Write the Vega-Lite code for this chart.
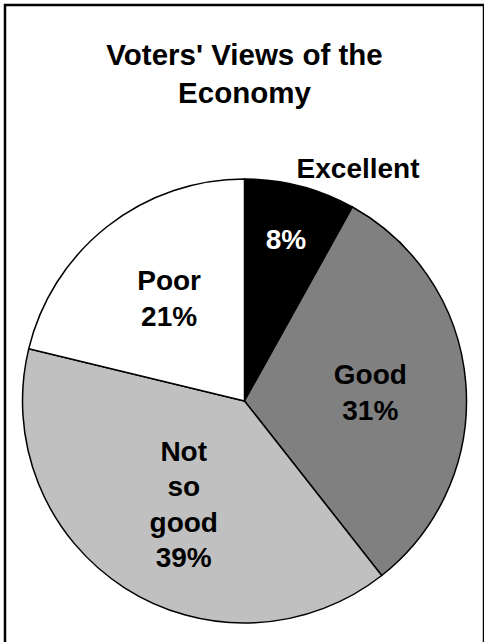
{
  "$schema": "https://vega.github.io/schema/vega-lite/v6.json",
  "width": 479,
  "height": 792,
  "autosize": "none",
  "padding": {"left": 5, "top": 5, "right": 0, "bottom": 0},
  "background": "white",
  "config": {
    "view": {"stroke": null},
    "text": {"font": "Liberation Sans"}
  },
  "title": {
    "text": ["Voters' Views of the", "Economy"],
    "font": "Liberation Sans",
    "fontSize": 29.5,
    "fontWeight": "bold",
    "color": "black",
    "lineHeight": 38,
    "anchor": "middle",
    "frame": "group",
    "baseline": "bottom",
    "offset": 0,
    "dy": 135
  },
  "data": {
    "values": [
      {"category": "Excellent", "value": 8, "label": "8%"},
      {"category": "Good", "value": 31, "label": "Good\n31%"},
      {"category": "Not so good", "value": 39, "label": "Not\nso\ngood\n39%"},
      {"category": "Poor", "value": 21, "label": "Poor\n21%"}
    ]
  },
  "layer": [
    {
      "data": {"values": [{"frame": "border"}]},
      "mark": {"type": "rect", "fill": "white", "fillOpacity": 0, "stroke": "black", "strokeWidth": 2.5, "x2Offset": 8},
      "encoding": {}
    },
    {
      "mark": {"type": "arc", "radius": 222, "stroke": "black", "strokeWidth": 1.5},
      "encoding": {
        "theta": {"field": "value", "type": "quantitative", "stack": true},
        "order": {"field": "category", "type": "ordinal", "sort": "ascending"},
        "color": {
          "field": "category",
          "type": "nominal",
          "scale": {"domain": ["Excellent", "Good", "Not so good", "Poor"], "range": ["#000000", "#808080", "#c0c0c0", "#ffffff"]},
          "legend": null
        }
      }
    },
    {
      "mark": {"type": "text", "radius": 126, "thetaOffset": 0.025, "dy": -18, "fontSize": 28, "fontWeight": "bold", "color": "black", "lineBreak": "\n", "lineHeight": 35.5, "align": "center", "baseline": "middle"},
      "encoding": {
        "theta": {"field": "value", "type": "quantitative", "stack": true},
        "order": {"field": "category", "type": "ordinal", "sort": "ascending"},
        "text": {"condition": {"test": "datum.category !== 'Good' && datum.category !== 'Poor'", "value": ""}, "field": "label", "type": "nominal"}
      }
    },
    {
      "mark": {"type": "text", "radius": 121, "thetaOffset": -0.045, "dy": -53, "fontSize": 28, "fontWeight": "bold", "color": "black", "lineBreak": "\n", "lineHeight": 35.5, "align": "center", "baseline": "middle"},
      "encoding": {
        "theta": {"field": "value", "type": "quantitative", "stack": true},
        "order": {"field": "category", "type": "ordinal", "sort": "ascending"},
        "text": {"condition": {"test": "datum.category !== 'Not so good'", "value": ""}, "field": "label", "type": "nominal"}
      }
    },
    {
      "mark": {"type": "text", "radius": 165, "fontSize": 28, "fontWeight": "bold", "color": "white", "align": "center", "baseline": "middle"},
      "encoding": {
        "theta": {"field": "value", "type": "quantitative", "stack": true},
        "order": {"field": "category", "type": "ordinal", "sort": "ascending"},
        "text": {"condition": {"test": "datum.category !== 'Excellent'", "value": ""}, "field": "label", "type": "nominal"}
      }
    },
    {
      "mark": {"type": "text", "radius": 259, "thetaOffset": 0.2, "dy": 2, "fontSize": 28, "fontWeight": "bold", "color": "black", "align": "center", "baseline": "middle"},
      "encoding": {
        "theta": {"field": "value", "type": "quantitative", "stack": true},
        "order": {"field": "category", "type": "ordinal", "sort": "ascending"},
        "text": {"condition": {"test": "datum.category !== 'Excellent'", "value": ""}, "field": "category", "type": "nominal"}
      }
    }
  ]
}
